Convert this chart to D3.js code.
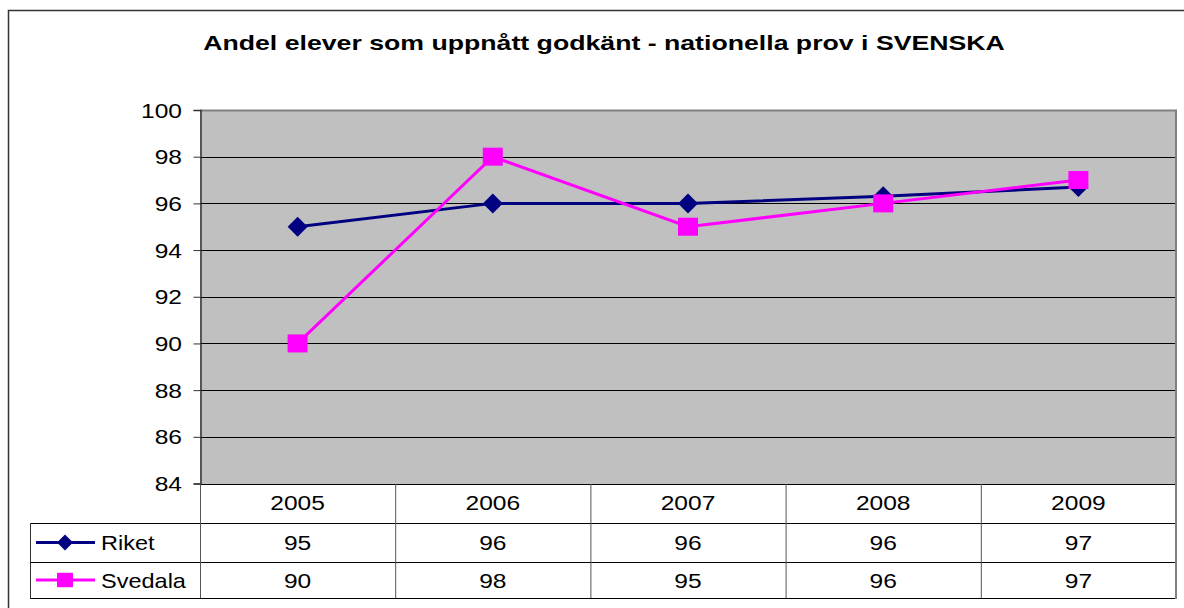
<!DOCTYPE html>
<html>
<head>
<meta charset="utf-8">
<script src="https://cdn.jsdelivr.net/npm/d3@7"></script>
<style>
  html, body { margin: 0; padding: 0; background: #fff; }
  svg { display: block; font-family: "Liberation Sans", Arial, sans-serif; }
</style>
</head>
<body>
<svg id="chart" width="1184" height="608"></svg>
<script>
// Share of pupils passing the national Swedish test, 2005–2009
const years = ["2005", "2006", "2007", "2008", "2009"];
const riket = [95, 96, 96, 96.3, 96.7];
const svedala = [90, 98, 95, 96, 97];
const yTicks = [84, 86, 88, 90, 92, 94, 96, 98, 100];
const seriesNames = ["Riket", "Svedala"];
const seriesColors = ["#000080", "#FF00FF"];
const title = "Andel elever som uppnått godkänt - nationella prov i SVENSKA";

const svg = d3.select("#chart");
const W = 1184, H = 608;
const plot = { left: 200, right: 1176, top: 110, bottom: 484 };
const rowH = [484, 523, 562, 598];   // table row boundaries
const tableLeft = 30;
const fmt = d3.format(".0f");

// place horizontally stretched text anchored at (x, y)
function stretchText(g, x, y, str, opts = {}) {
  const sx = opts.sx || 1.17;
  return g.append("text")
    .attr("transform", `translate(${x},${y}) scale(${sx},1)`)
    .attr("text-anchor", opts.anchor || "middle")
    .attr("font-size", opts.size || 21)
    .attr("font-weight", opts.weight || "normal")
    .attr("fill", "#000")
    .text(str);
}

// outer chart frame
svg.append("rect")
  .attr("x", 8.5).attr("y", 10.5).attr("width", W).attr("height", H)
  .attr("fill", "#fff").attr("stroke", "#333").attr("stroke-width", 1.5);

const x = d3.scaleBand().domain(years).range([plot.left, plot.right]).paddingInner(0).paddingOuter(0);
const cx = d => x(d) + x.bandwidth() / 2;
const y = d3.scaleLinear().domain([84, 100]).range([plot.bottom - 0.5, plot.top]);

// plot background
svg.append("rect")
  .attr("x", plot.left).attr("y", plot.top)
  .attr("width", plot.right - plot.left).attr("height", plot.bottom - plot.top)
  .attr("fill", "#C0C0C0");

// gridlines
svg.append("g").selectAll("line")
  .data(yTicks.filter(t => t > 84 && t < 100))
  .join("line")
  .attr("x1", plot.left).attr("x2", plot.right)
  .attr("y1", d => Math.round(y(d)) + 0.5).attr("y2", d => Math.round(y(d)) + 0.5)
  .attr("stroke", "#000").attr("stroke-width", 1);

// plot border (top/right)
svg.append("path")
  .attr("d", `M${plot.left},${plot.top + 0.5} H${plot.right} V${plot.bottom}`)
  .attr("fill", "none").attr("stroke", "#808080").attr("stroke-width", 2);

// y axis
const yAxis = d3.axisLeft(y).tickValues(yTicks).tickSize(7).tickFormat(d3.format("d"));
const yg = svg.append("g").attr("transform", `translate(${plot.left + 0.5},0)`).call(yAxis);
yg.select(".domain").attr("stroke", "#333").attr("stroke-width", 1.5);
yg.selectAll(".tick line").attr("stroke", "#333");
yg.selectAll(".tick text").remove();
yTicks.forEach(t => stretchText(svg, 182, y(t) + 7.5, String(t), { anchor: "end" }));

// data table grid
const tg = svg.append("g");
rowH.forEach((ry, i) => {
  tg.append("line")
    .attr("x1", i === 0 ? plot.left : tableLeft).attr("x2", plot.right)
    .attr("y1", ry + 0.5).attr("y2", ry + 0.5)
    .attr("stroke", "#000").attr("stroke-width", 1);
});
years.forEach(yr => {
  tg.append("line")
    .attr("x1", x(yr) + 0.5).attr("x2", x(yr) + 0.5)
    .attr("y1", rowH[0]).attr("y2", rowH[3])
    .attr("stroke", "#555").attr("stroke-width", 1);
});
tg.append("line")
  .attr("x1", plot.right).attr("x2", plot.right)
  .attr("y1", plot.top).attr("y2", rowH[3] + 1)
  .attr("stroke", "#808080").attr("stroke-width", 2);
tg.append("line")
  .attr("x1", tableLeft + 0.5).attr("x2", tableLeft + 0.5)
  .attr("y1", rowH[1]).attr("y2", rowH[3] + 1)
  .attr("stroke", "#333").attr("stroke-width", 1);

// header labels
years.forEach(yr => stretchText(svg, cx(yr), rowH[0] + 26, yr));

function drawMarker(g, si, px, py, k = 1) {
  if (si === 0) {
    const r = 10 * k;
    g.append("path")
      .attr("d", `M${px},${py - r} L${px + r},${py} L${px},${py + r} L${px - r},${py} Z`)
      .attr("fill", seriesColors[si]);
  } else {
    const w = 20 * k, h = 18 * k;
    g.append("rect")
      .attr("x", px - w / 2).attr("y", py - h / 2)
      .attr("width", w).attr("height", h)
      .attr("fill", seriesColors[si]);
  }
}

// series rows with legend keys
const series = [riket, svedala];
series.forEach((vals, si) => {
  const rowMid = (rowH[si + 1] + rowH[si + 2]) / 2;
  vals.forEach((v, i) => stretchText(svg, cx(years[i]), rowMid + 7.5, fmt(v)));
  stretchText(svg, 101, rowMid + 7.5, seriesNames[si], { anchor: "start", sx: 1.12 });
  svg.append("line")
    .attr("x1", 36).attr("x2", 95).attr("y1", rowMid).attr("y2", rowMid)
    .attr("stroke", seriesColors[si]).attr("stroke-width", 3);
  drawMarker(svg, si, 65, rowMid, 0.8);
});

// lines + markers
const line = d3.line().x((d, i) => cx(years[i])).y(d => y(d));
series.forEach((vals, si) => {
  svg.append("path")
    .attr("d", line(vals))
    .attr("fill", "none").attr("stroke", seriesColors[si]).attr("stroke-width", 3);
});
series.forEach((vals, si) => {
  vals.forEach((v, i) => drawMarker(svg, si, cx(years[i]), y(v)));
});

// title
stretchText(svg, 604, 50, title, { size: 21, weight: "bold", sx: 1.27 });
</script>
</body>
</html>
